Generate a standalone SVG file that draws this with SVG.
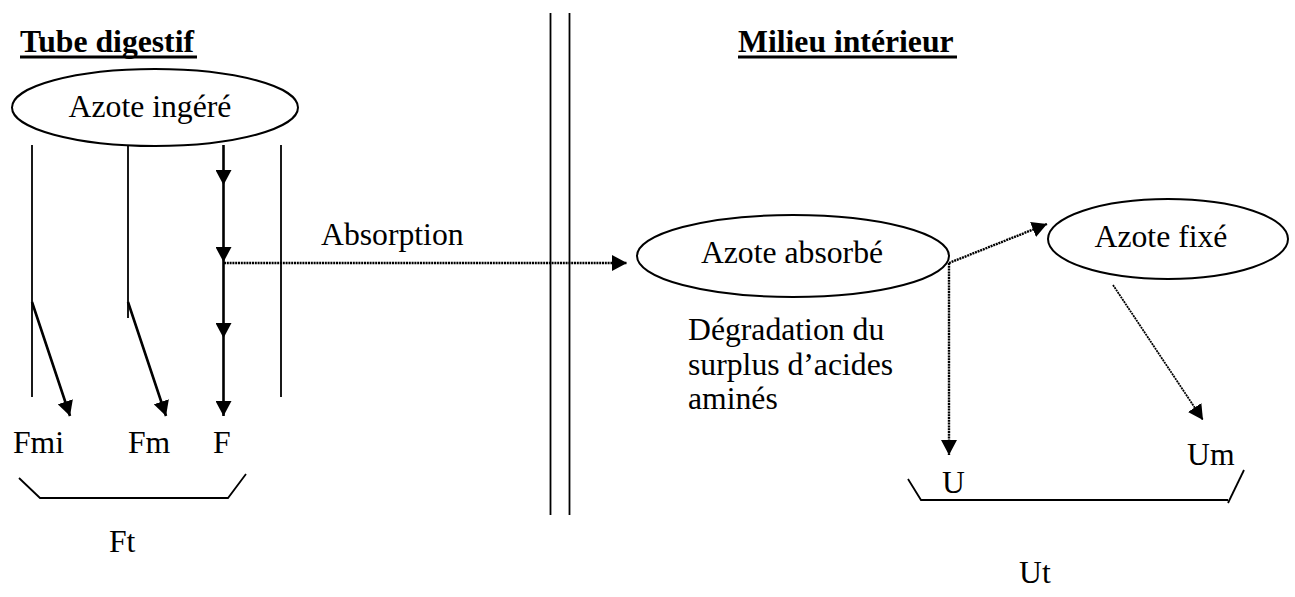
<svg xmlns="http://www.w3.org/2000/svg" width="1295" height="597" viewBox="0 0 1295 597">
<style>
text{font-family:'Liberation Serif','DejaVu Serif',serif;font-size:31.7px;fill:#000}
.title{font-weight:bold}
.ln{stroke:#000;stroke-width:1.8;fill:none}
.thick{stroke:#000;stroke-width:2.6;fill:none}
.dot{stroke:#000;stroke-width:2.4;stroke-dasharray:2 0.8;fill:none}
.dotthin{stroke:#000;stroke-width:1.8;stroke-dasharray:2 0.8;fill:none}
.node ellipse{fill:#fff;stroke:#000;stroke-width:2}
</style>
<defs>
<marker id="ah" markerUnits="userSpaceOnUse" markerWidth="16" markerHeight="16" refX="15" refY="8" orient="auto">
<path d="M0,0 L15,8 L0,16 z" fill="#000"/>
</marker>
</defs>
<rect width="1295" height="597" fill="#fff"/>

<g id="titles">
<text class="title" x="20" y="52">Tube digestif</text>
<line x1="20" y1="57" x2="197" y2="57" stroke="#000" stroke-width="3"/>
<text class="title" x="738" y="52">Milieu intérieur</text>
<line x1="738" y1="57" x2="957" y2="57" stroke="#000" stroke-width="3"/>
</g>

<g id="separator">
<line class="ln" x1="550.5" y1="13" x2="550.5" y2="515"/>
<line class="ln" x1="569.5" y1="13" x2="569.5" y2="515"/>
</g>

<g id="node-ingere" class="node">
<ellipse cx="155" cy="107.5" rx="143" ry="38.5"/>
<text x="150" y="117" text-anchor="middle">Azote ingéré</text>
</g>

<g id="node-absorbe" class="node">
<ellipse cx="793" cy="256" rx="156" ry="41"/>
<text x="792" y="263" text-anchor="middle">Azote absorbé</text>
</g>

<g id="node-fixe" class="node">
<ellipse cx="1168" cy="239" rx="120" ry="40"/>
<text x="1161" y="247" text-anchor="middle">Azote fixé</text>
</g>

<g id="connectors">
<line class="ln" x1="32" y1="145" x2="32" y2="397"/>
<line class="ln" x1="128" y1="145" x2="128" y2="318"/>
<line class="ln" x1="281" y1="145" x2="281" y2="397"/>
<line class="thick" x1="32" y1="302" x2="70" y2="416" marker-end="url(#ah)"/>
<line class="thick" x1="128" y1="302" x2="166" y2="416" marker-end="url(#ah)"/>
<line class="thick" x1="223.5" y1="145" x2="223.5" y2="185" marker-end="url(#ah)"/>
<line class="thick" x1="223.5" y1="185" x2="223.5" y2="262" marker-end="url(#ah)"/>
<line class="thick" x1="223.5" y1="262" x2="223.5" y2="338" marker-end="url(#ah)"/>
<line class="thick" x1="223.5" y1="338" x2="223.5" y2="416" marker-end="url(#ah)"/>
<line class="dot" x1="224" y1="263" x2="627" y2="263" marker-end="url(#ah)"/>
<line class="dot" x1="949" y1="263" x2="949" y2="455" marker-end="url(#ah)"/>
<line class="dot" x1="949" y1="263" x2="1047" y2="224" marker-end="url(#ah)"/>
<line class="dotthin" x1="1113" y1="285" x2="1203" y2="420" marker-end="url(#ah)"/>
</g>

<g id="labels">
<text x="321" y="245">Absorption</text>
<text x="688" y="340">Dégradation du</text>
<text x="688" y="375">surplus d’acides</text>
<text x="688" y="409">aminés</text>
<text x="13" y="453">Fmi</text>
<text x="128" y="453">Fm</text>
<text x="213" y="453">F</text>
<text x="109" y="552">Ft</text>
<text x="942" y="493">U</text>
<text x="1187" y="465">Um</text>
<text x="1019" y="583">Ut</text>
</g>

<g id="brackets">
<polyline class="ln" points="19,478 40,498 228,498 246,474"/>
<polyline class="ln" points="908,479 921,500 1228,500"/>
<line class="ln" x1="1228" y1="503" x2="1244" y2="470"/>
</g>
</svg>
